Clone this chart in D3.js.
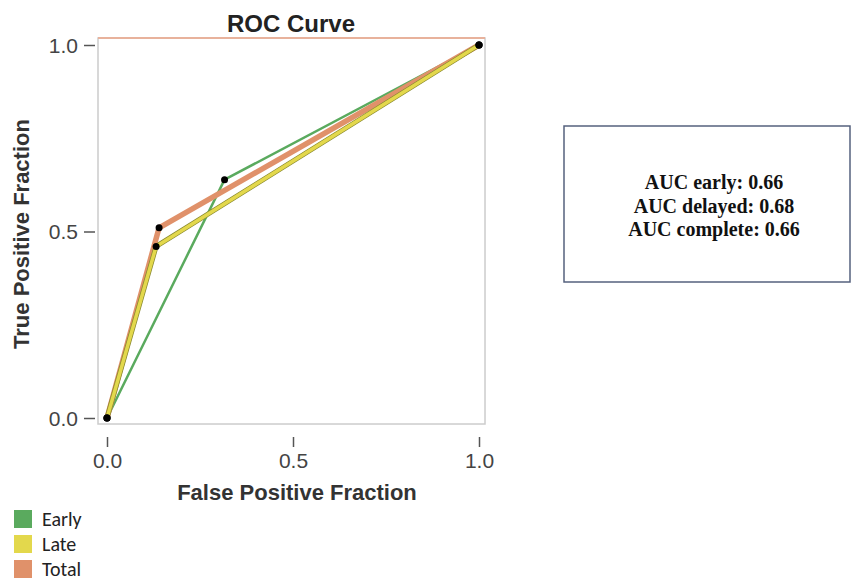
<!DOCTYPE html>
<html>
<head>
<meta charset="utf-8">
<script src="https://cdn.jsdelivr.net/npm/d3@7"></script>
<style>
  body { margin: 0; background: #fff; }
  svg { display: block; }
</style>
</head>
<body>
<script>
// ROC points per series (false positive fraction, true positive fraction)
var seriesNames = ["Early", "Late", "Total"];
var earlyFpr = [0, 0.316, 1.0];
var earlyTpr = [0, 0.639, 1.0];
var lateFpr = [0, 0.132, 1.0];
var lateTpr = [0, 0.46, 1.0];
var totalFpr = [0, 0.14, 1.0];
var totalTpr = [0, 0.51, 1.0];
var tickValues = [0, 0.5, 1.0];
var aucLines = ["AUC early: 0.66", "AUC delayed: 0.68", "AUC complete: 0.66"];

var colors = {Early: "#5aaa5e", Late: "#e3d84c", Total: "#e0916a"};

var svg = d3.select("body").append("svg")
    .attr("width", 854)
    .attr("height", 580);

var x = d3.scaleLinear().domain([0, 1]).range([107, 479]);
var y = d3.scaleLinear().domain([0, 1]).range([418, 45]);

// plot frame
svg.append("rect")
    .attr("x", 98).attr("y", 38)
    .attr("width", 387).attr("height", 386)
    .style("fill", "none")
    .style("stroke", "#cccccc")
    .style("stroke-width", 1.5);
svg.append("line")
    .attr("x1", 98).attr("x2", 485)
    .attr("y1", 38).attr("y2", 38)
    .style("stroke", "#e8b29c")
    .style("stroke-width", 2);

// axes
var yAxis = svg.append("g")
    .attr("transform", "translate(95,0)")
    .call(d3.axisLeft(y).tickValues(tickValues).tickFormat(d3.format(".1f")).tickSize(11).tickPadding(6));
var xAxis = svg.append("g")
    .attr("transform", "translate(0,437)")
    .call(d3.axisBottom(x).tickValues(tickValues).tickFormat(d3.format(".1f")).tickSize(10).tickPadding(6));

[xAxis, yAxis].forEach(function(ax) {
    ax.select(".domain").remove();
    ax.selectAll(".tick line").style("stroke", "#555").style("stroke-width", 1.5);
    ax.selectAll(".tick text")
        .style("font-family", "Liberation Sans, Arial, sans-serif")
        .style("font-size", "21px")
        .style("fill", "#444");
});
yAxis.selectAll(".tick text").attr("dy", "0.35em");

// series
var series = [
    {name: "Early", fpr: earlyFpr, tpr: earlyTpr, width: 2.5},
    {name: "Total", fpr: totalFpr, tpr: totalTpr, width: 5.5},
    {name: "Late", fpr: lateFpr, tpr: lateTpr, width: 3.5}
];

var line = d3.line()
    .x(function(d) { return x(d[0]); })
    .y(function(d) { return y(d[1]); });

series.forEach(function(s) {
    var pts = s.fpr.map(function(f, i) { return [f, s.tpr[i]]; });
    if (s.name == "Late") {
        svg.append("path")
            .attr("d", line(pts))
            .style("fill", "none")
            .style("stroke", "#8a8a30")
            .style("stroke-width", s.width + 1.5)
            .style("stroke-linejoin", "round");
    }
    svg.append("path")
        .attr("d", line(pts))
        .style("fill", "none")
        .style("stroke", colors[s.name])
        .style("stroke-width", s.width)
        .style("stroke-linejoin", "round");
});

series.forEach(function(s) {
    svg.selectAll(null)
        .data(s.fpr.map(function(f, i) { return [f, s.tpr[i]]; }))
        .enter().append("circle")
        .attr("cx", function(d) { return x(d[0]); })
        .attr("cy", function(d) { return y(d[1]); })
        .attr("r", 3.5)
        .style("fill", "#000");
});

// titles
svg.append("text")
    .attr("x", 291).attr("y", 32)
    .attr("text-anchor", "middle")
    .style("font-family", "Liberation Sans, Arial, sans-serif")
    .style("font-weight", "bold")
    .style("font-size", "24px")
    .style("fill", "#222")
    .text("ROC Curve");

svg.append("text")
    .attr("x", 297).attr("y", 500)
    .attr("text-anchor", "middle")
    .style("font-family", "Liberation Sans, Arial, sans-serif")
    .style("font-weight", "bold")
    .style("font-size", "22px")
    .style("fill", "#333")
    .text("False Positive Fraction");

svg.append("text")
    .attr("transform", "translate(29,234) rotate(-90)")
    .attr("text-anchor", "middle")
    .style("font-family", "Liberation Sans, Arial, sans-serif")
    .style("font-weight", "bold")
    .style("font-size", "22px")
    .style("fill", "#333")
    .text("True Positive Fraction");

// legend
var legend = svg.selectAll(".legend")
    .data(seriesNames)
    .enter().append("g")
    .attr("class", "legend")
    .attr("transform", function(d, i) { return "translate(14," + (510 + i * 25) + ")"; });
legend.append("rect")
    .attr("width", 18).attr("height", 18)
    .style("fill", function(d) { return colors[d]; });
legend.append("text")
    .attr("x", 28).attr("y", 16)
    .style("font-family", "Carlito, Calibri, Lato, sans-serif")
    .style("font-size", "20px")
    .style("fill", "#222")
    .text(function(d) { return d; });

// AUC box
svg.append("rect")
    .attr("x", 564).attr("y", 126)
    .attr("width", 286).attr("height", 156)
    .style("fill", "none")
    .style("stroke", "#55617e")
    .style("stroke-width", 1.5);
svg.selectAll(".auc")
    .data(aucLines)
    .enter().append("text")
    .attr("class", "auc")
    .attr("x", 714)
    .attr("y", function(d, i) { return 189 + i * 23.5; })
    .attr("text-anchor", "middle")
    .style("font-family", "Liberation Serif, Times New Roman, serif")
    .style("font-weight", "bold")
    .style("font-size", "20px")
    .style("fill", "#111")
    .text(function(d) { return d; });
</script>
</body>
</html>
